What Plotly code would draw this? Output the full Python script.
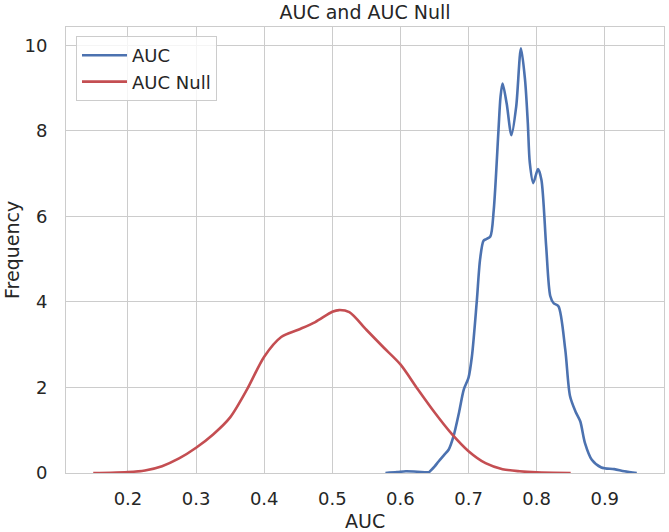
import plotly.graph_objects as go

# Data (KDE curves)
auc_x = [0.578, 0.595, 0.608, 0.625, 0.642, 0.644, 0.650, 0.656, 0.664, 0.671, 0.678, 0.686,
         0.693, 0.700, 0.705, 0.712, 0.717, 0.722, 0.726, 0.732, 0.737, 0.744, 0.747, 0.750,
         0.756, 0.763, 0.770, 0.777, 0.783, 0.787, 0.790, 0.795, 0.802, 0.807, 0.814, 0.820,
         0.825, 0.832, 0.842, 0.849, 0.857, 0.864, 0.871, 0.881, 0.895, 0.914, 0.929, 0.947]
auc_y = [0.00, 0.02, 0.04, 0.03, 0.02, 0.05, 0.15, 0.27, 0.42, 0.55, 0.86, 1.41,
         1.95, 2.23, 2.73, 3.99, 5.00, 5.43, 5.47, 5.53, 6.15, 8.02, 8.80, 9.11,
         8.64, 7.90, 8.57, 9.93, 9.19, 8.20, 7.25, 6.78, 7.11, 6.86, 5.30, 4.14,
         3.97, 3.90, 2.89, 1.80, 1.44, 1.21, 0.70, 0.31, 0.13, 0.09, 0.04, 0.00]

null_x = [0.149, 0.175, 0.200, 0.225, 0.250, 0.275, 0.300, 0.325, 0.350, 0.375, 0.400, 0.425,
          0.450, 0.475, 0.500, 0.510, 0.525, 0.550, 0.575, 0.600, 0.625, 0.650, 0.675, 0.700,
          0.725, 0.750, 0.775, 0.800, 0.850]
null_y = [0.000, 0.005, 0.02, 0.06, 0.16, 0.34, 0.59, 0.90, 1.30, 1.96, 2.72, 3.18,
          3.35, 3.53, 3.77, 3.81, 3.76, 3.35, 2.94, 2.54, 1.97, 1.42, 0.92, 0.51,
          0.23, 0.09, 0.04, 0.015, 0.000]

x_ticks = [0.2, 0.3, 0.4, 0.5, 0.6, 0.7, 0.8, 0.9]
y_ticks = [0, 2, 4, 6, 8, 10]

BLUE = "#4c72b0"
RED = "#c44e52"
GRID = "#cccccc"
TXT = "#262626"
FONT = "DejaVu Sans"

W, H = 669, 532
PL, PT, PR, PB = 66, 27, 664, 473          # plot box in screen pixels
L, T = PL, PT
PW, PH = PR - PL, PB - PT
R, B = W - L - PW, H - T - PH

fig = go.Figure()
fig.add_trace(go.Scatter(x=auc_x, y=auc_y, mode="lines", name="AUC",
                         line=dict(color=BLUE, width=2.6, shape="spline", smoothing=0.8)))
fig.add_trace(go.Scatter(x=null_x, y=null_y, mode="lines", name="AUC Null",
                         line=dict(color=RED, width=2.6, shape="spline", smoothing=0.8)))

fig.update_layout(
    width=W, height=H,
    margin=dict(l=L, r=R, t=T, b=B),
    paper_bgcolor="white", plot_bgcolor="white",
    font=dict(family=FONT, color=TXT, size=18),
    title=dict(text="AUC and AUC Null", x=(L + PW / 2) / W, xanchor="center",
               y=1 - 12 / H, yanchor="middle", yref="container",
               font=dict(size=19, color=TXT, family=FONT)),
    showlegend=True,
    legend=dict(x=10 / PW, y=1 - 9 / PH, xanchor="left", yanchor="top",
                itemwidth=45,
                bgcolor="rgba(255,255,255,0.8)", bordercolor=GRID, borderwidth=1,
                font=dict(size=18, color=TXT, family=FONT)),
    xaxis=dict(range=[0.109, 0.987], tickvals=x_ticks, ticktext=[f"{v:.1f}" for v in x_ticks],
               showgrid=True, gridcolor=GRID, gridwidth=1, zeroline=False,
               showline=True, linecolor=GRID, linewidth=1, mirror=True,
               ticks="", ticklabelstandoff=9, tickfont=dict(size=18)),
    yaxis=dict(range=[0, 10.43], tickvals=y_ticks, ticktext=[str(v) for v in y_ticks],
               showgrid=True, gridcolor=GRID, gridwidth=1, zeroline=False,
               showline=True, linecolor=GRID, linewidth=1, mirror=True,
               ticks="", ticklabelstandoff=14, tickfont=dict(size=18)),
    annotations=[
        dict(text="AUC", xref="paper", yref="paper", x=0.5, y=-(521 - PB) / PH,
             xanchor="center", yanchor="middle", showarrow=False,
             font=dict(size=19, color=TXT, family=FONT)),
        dict(text="Frequency", xref="paper", yref="paper", x=-(PL - 12) / PW, y=0.5,
             xanchor="center", yanchor="middle", textangle=-90, showarrow=False,
             font=dict(size=19, color=TXT, family=FONT)),
    ],
)

fig.write_html("out.html", config={"displayModeBar": False},
               post_script="document.body.style.margin='0';document.body.style.overflow='hidden';")
